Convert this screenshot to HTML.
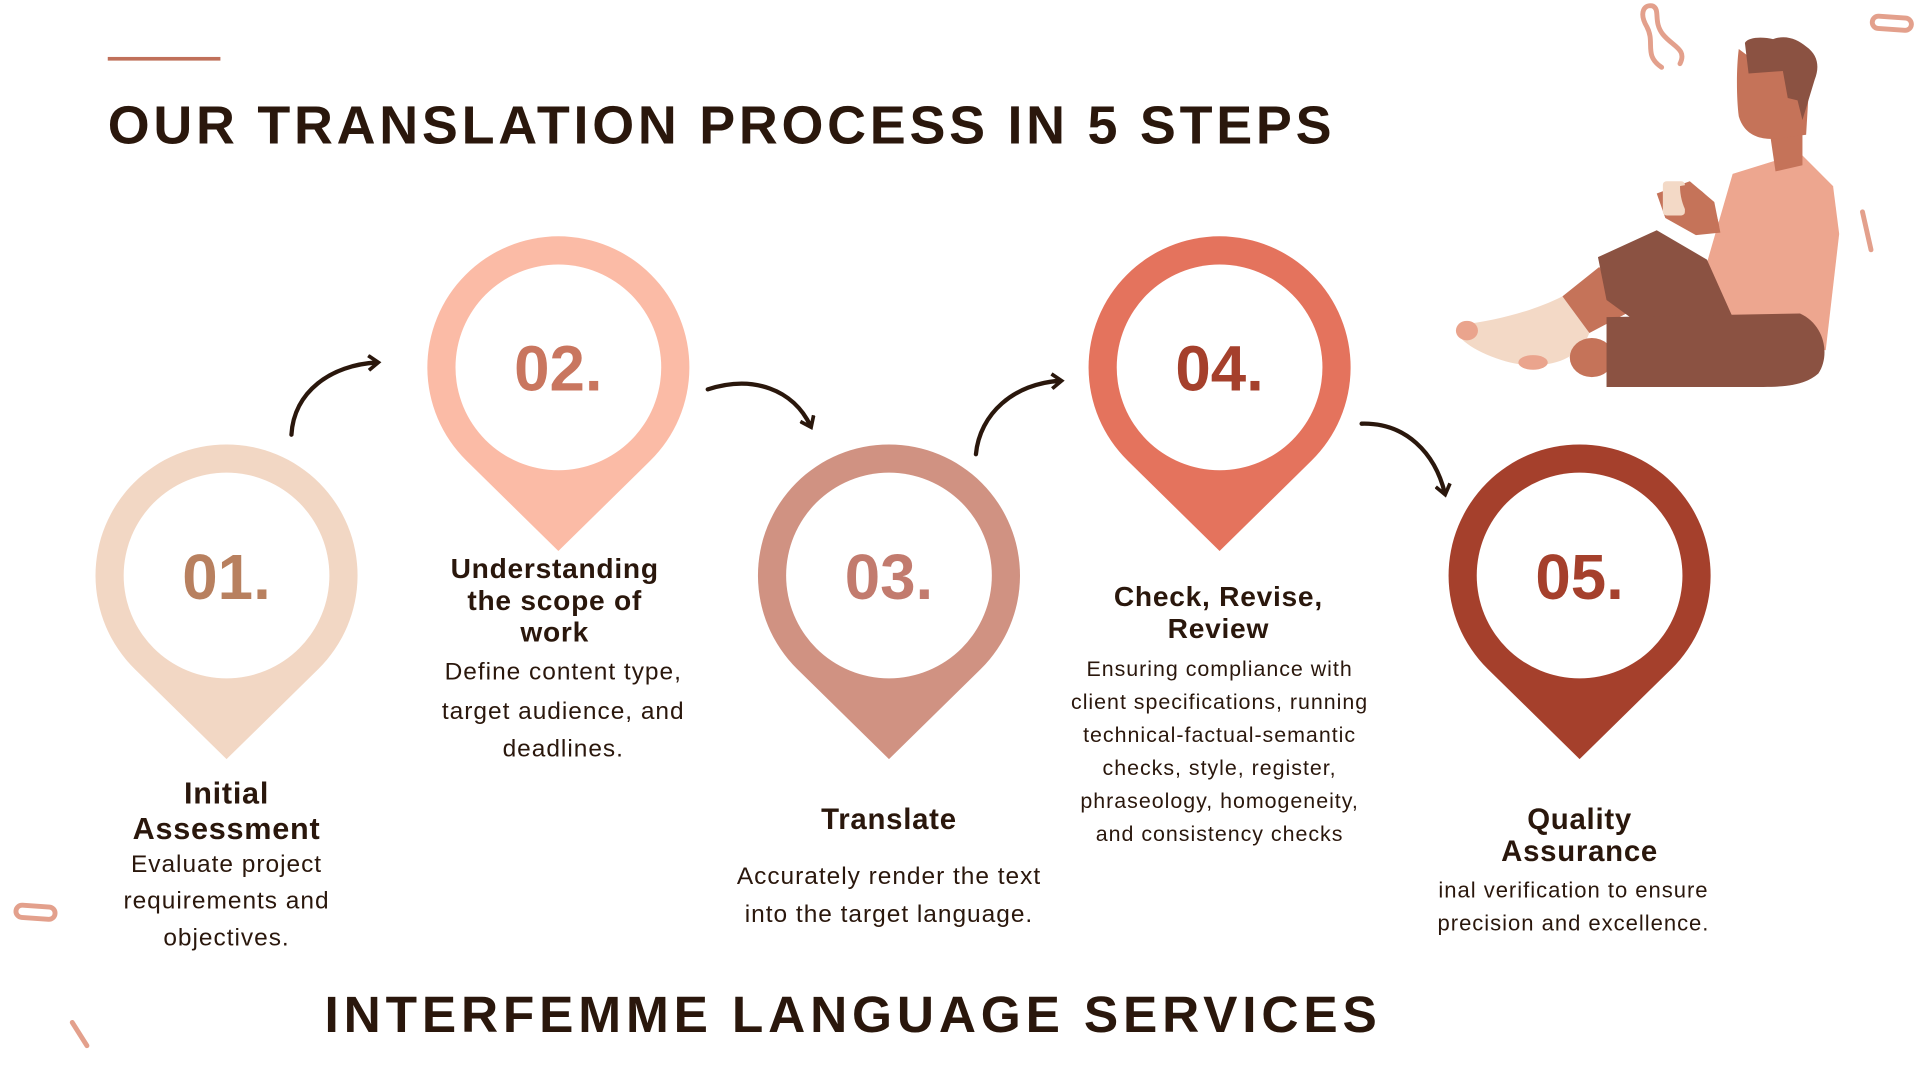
<!DOCTYPE html>
<html><head><meta charset="utf-8"><style>
html,body{margin:0;padding:0;background:#fff;width:1920px;height:1080px;overflow:hidden}
svg{display:block}
.h{font-family:"Liberation Sans",sans-serif;font-weight:bold;fill:#2a170c;letter-spacing:0.6px}
.b{font-family:"Liberation Sans",sans-serif;fill:#2a170c;letter-spacing:0.8px}
.n{font-family:"Liberation Sans",sans-serif;font-weight:bold;font-size:52px}
</style></head><body>
<svg width="1920" height="1080" viewBox="0 0 1568 882" preserveAspectRatio="none">
<defs>
<path id="pin" d="M0 150 L-75 76.3 A107 107 0 1 1 75 76.3 Z"/>
<marker id="ah" markerWidth="14" markerHeight="14" refX="8" refY="7" orient="auto" markerUnits="userSpaceOnUse" viewBox="0 0 14 14"><path d="M1 1 L9 7 L1 13" fill="none" stroke="#2a170c" stroke-width="3"/></marker>
</defs>
<rect x="88" y="46.5" width="92" height="3" fill="#c0705a"/>
<text class="h" x="88" y="117" font-size="44" textLength="1000" lengthAdjust="spacing">OUR TRANSLATION PROCESS IN 5 STEPS</text>

<g transform="translate(185,470)"><use href="#pin" fill="#f2d7c4"/><circle r="84" fill="#fff"/><text class="n" y="19" text-anchor="middle" fill="#b8805f">01.</text></g>
<g transform="translate(456,300)"><use href="#pin" fill="#fbbba6"/><circle r="84" fill="#fff"/><text class="n" y="19" text-anchor="middle" fill="#c9765f">02.</text></g>
<g transform="translate(726,470)"><use href="#pin" fill="#d09282"/><circle r="84" fill="#fff"/><text class="n" y="19" text-anchor="middle" fill="#c27b6e">03.</text></g>
<g transform="translate(996,300)"><use href="#pin" fill="#e4735d"/><circle r="84" fill="#fff"/><text class="n" y="19" text-anchor="middle" fill="#a5402c">04.</text></g>
<g transform="translate(1290,470)"><use href="#pin" fill="#a5402c"/><circle r="84" fill="#fff"/><text class="n" y="19" text-anchor="middle" fill="#a5402c">05.</text></g>

<g fill="none" stroke="#2a170c" stroke-width="3.5" stroke-linecap="round" marker-end="url(#ah)">
<path d="M238 355 C240 320 270 298 308 296"/>
<path d="M578 318 C615 306 648 318 662 348"/>
<path d="M797 371 C800 338 828 313 866 311"/>
<path d="M1112 346 C1148 345 1172 370 1180 403"/>
</g>

<g text-anchor="middle">
<text class="h" font-size="25" x="185" y="656">Initial</text>
<text class="h" font-size="25" x="185" y="685">Assessment</text>
<text class="b" font-size="20" x="185" y="712">Evaluate project</text>
<text class="b" font-size="20" x="185" y="742">requirements and</text>
<text class="b" font-size="20" x="185" y="772">objectives.</text>

<text class="h" font-size="23" x="453" y="472">Understanding</text>
<text class="h" font-size="23" x="453" y="498">the scope of</text>
<text class="h" font-size="23" x="453" y="524">work</text>
<text class="b" font-size="20" x="460" y="555">Define content type,</text>
<text class="b" font-size="20" x="460" y="587">target audience, and</text>
<text class="b" font-size="20" x="460" y="618">deadlines.</text>

<text class="h" font-size="24" x="726" y="677">Translate</text>
<text class="b" font-size="20" x="726" y="722">Accurately render the text</text>
<text class="b" font-size="20" x="726" y="753">into the target language.</text>

<text class="h" font-size="23" x="995" y="495">Check, Revise,</text>
<text class="h" font-size="23" x="995" y="521">Review</text>
<text class="b" font-size="17.5" x="996" y="552">Ensuring compliance with</text>
<text class="b" font-size="17.5" x="996" y="579">client specifications, running</text>
<text class="b" font-size="17.5" x="996" y="606">technical-factual-semantic</text>
<text class="b" font-size="17.5" x="996" y="633">checks, style, register,</text>
<text class="b" font-size="17.5" x="996" y="660">phraseology, homogeneity,</text>
<text class="b" font-size="17.5" x="996" y="687">and consistency checks</text>

<text class="h" font-size="24" x="1290" y="677">Quality</text>
<text class="h" font-size="24" x="1290" y="703">Assurance</text>
<text class="b" font-size="18" x="1285" y="733">inal verification to ensure</text>
<text class="b" font-size="18" x="1285" y="760">precision and excellence.</text>
</g>

<text class="h" x="265" y="843" font-size="42" textLength="860" lengthAdjust="spacing">INTERFEMME LANGUAGE SERVICES</text>

<!-- decorations -->
<g fill="none" stroke="#e3a08c" stroke-width="4" stroke-linecap="round">
<rect x="13" y="740" width="32" height="10" rx="5" transform="rotate(4 29 745)"/>
<line x1="59" y1="835" x2="71" y2="854"/>
<rect x="1529" y="14" width="32" height="10" rx="5" transform="rotate(4 1545 19)"/>
<line x1="1521" y1="173" x2="1528" y2="204"/>
<path d="M1357 55 C1342 45 1352 35 1345 22 C1338 10 1343 3 1350 5 C1356 8 1350 18 1358 28 C1366 38 1378 40 1372 52"/>
</g>

<!-- figure -->
<g>
<path d="M1195 265 C1220 262 1250 255 1276 242 L1298 272 C1290 292 1270 300 1245 298 C1225 296 1200 285 1192 275 Z" fill="#f3d9c6"/>
<ellipse cx="1198" cy="270" rx="9" ry="8" fill="#eaa48d"/>
<ellipse cx="1252" cy="296" rx="12" ry="6" fill="#eaa48d"/>
<path d="M1276 242 L1306 218 L1334 253 L1298 272 Z" fill="#c57359"/>
<ellipse cx="1300" cy="292" rx="18" ry="16" fill="#c57359"/>
<path d="M1415 142 L1470 125 L1497 152 L1502 191 L1491 286 L1415 272 L1393 218 Z" fill="#eda68f"/>
<path d="M1445 106 L1472 106 L1472 135 L1450 140 Z" fill="#c57359"/>
<path d="M1305 210 L1353 188 L1394 212 L1415 259 L1334 261 L1312 245 Z" fill="#8b5242"/>
<path d="M1312 259 L1470 256 C1490 265 1495 290 1485 305 C1475 314 1460 316 1440 316 L1312 316 Z" fill="#8b5242"/>
<path d="M1353 158 L1380 148 L1400 165 L1405 190 L1385 192 L1360 178 Z" fill="#c57359"/>
<rect x="1358" y="148" width="18" height="28" rx="3" fill="#f3d9c6"/>
<path d="M1372 152 C1385 148 1400 160 1404 185 L1390 190 C1380 180 1372 168 1372 152 Z" fill="#c57359"/>
<path d="M1420 40 C1418 55 1418 80 1420 95 C1425 112 1440 116 1460 112 L1475 110 L1478 60 L1440 55 Z" fill="#c57359"/>
<path d="M1425 35 C1428 30 1440 30 1448 32 C1458 28 1468 32 1475 38 C1485 45 1486 55 1482 65 L1472 98 L1468 82 L1460 80 L1456 58 L1428 60 Z" fill="#8b5242"/>
</g>
</svg>
</body></html>
